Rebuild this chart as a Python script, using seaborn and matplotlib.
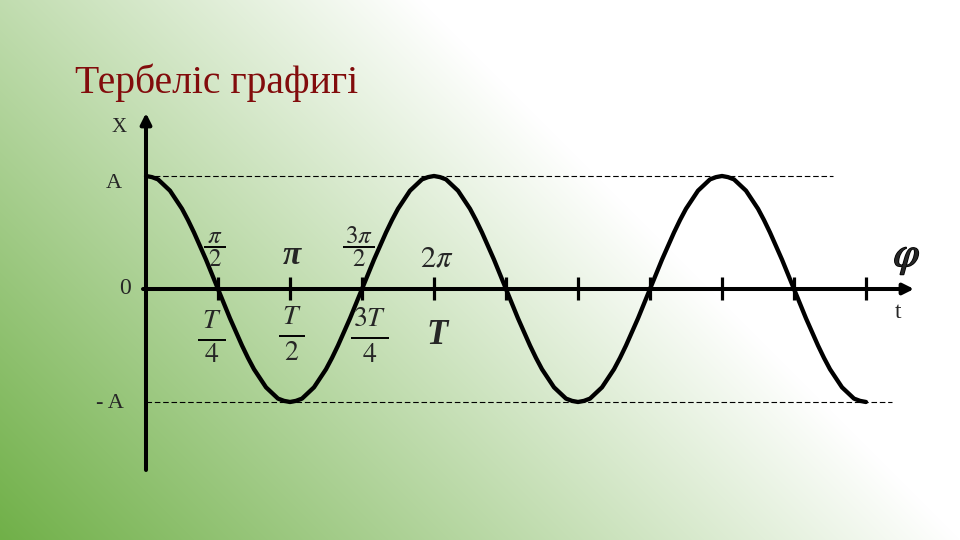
import numpy as np
import matplotlib
matplotlib.use("Agg")
import matplotlib.pyplot as plt
import matplotlib.patheffects as pe
import seaborn as sns

# phase axis in quarter periods (T/4 = 1), values read every 1/12 of a quarter
x_steps_per_quarter = 12
x_values = [
    1.00, 0.99, 0.97, 0.92, 0.87, 0.79, 0.71, 0.61, 0.50, 0.38, 0.26, 0.13,
    0.00, -0.13, -0.26, -0.38, -0.50, -0.61, -0.71, -0.79, -0.87, -0.92, -0.97, -0.99,
    -1.00, -0.99, -0.97, -0.92, -0.87, -0.79, -0.71, -0.61, -0.50, -0.38, -0.26, -0.13,
    0.00, 0.13, 0.26, 0.38, 0.50, 0.61, 0.71, 0.79, 0.87, 0.92, 0.97, 0.99,
    1.00, 0.99, 0.97, 0.92, 0.87, 0.79, 0.71, 0.61, 0.50, 0.38, 0.26, 0.13,
    0.00, -0.13, -0.26, -0.38, -0.50, -0.61, -0.71, -0.79, -0.87, -0.92, -0.97, -0.99,
    -1.00, -0.99, -0.97, -0.92, -0.87, -0.79, -0.71, -0.61, -0.50, -0.38, -0.26, -0.13,
    0.00, 0.13, 0.26, 0.38, 0.50, 0.61, 0.71, 0.79, 0.87, 0.92, 0.97, 0.99,
    1.00, 0.99, 0.97, 0.92, 0.87, 0.79, 0.71, 0.61, 0.50, 0.38, 0.26, 0.13,
    0.00, -0.13, -0.26, -0.38, -0.50, -0.61, -0.71, -0.79, -0.87, -0.92, -0.97, -0.99,
    -1.00,
]
t_values = np.arange(len(x_values)) / x_steps_per_quarter

amplitude = 1.0
tick_pos = [1, 2, 3, 4, 5, 6, 7, 8, 9, 10]
# (numerator, denominator); denominator None means a plain label
phase_labels = [(r"$\pi$", "$2$"), ("π", None), (r"$3\pi$", "$2$"), (r"$2\pi$", None)]
time_labels = [("$T$", "$4$"), ("$T$", "$2$"), ("$3T$", "$4$"), ("T", None)]
title = "Тербеліс графигі"

# pixel layout of the slide
X0, Y0, UX, UY = 146, 289, 72, 113


def px(xp, yp):
    return (xp - X0) / UX, (Y0 - yp) / UY


def py(yp):
    return (Y0 - yp) / UY


def background(ax):
    X, Y = np.meshgrid(np.arange(960), np.arange(540))
    u = X - Y
    m = np.clip((420 - u) / 960, 0, 1)
    green = np.array([112, 176, 72]) / 255
    img = 1 - m[..., None] * (1 - green)
    x0, y0 = px(0, 0)
    x1, y1 = px(960, 540)
    ax.imshow(img, extent=(x0, x1, y1, y0), origin="upper", aspect="auto", zorder=0)


def fraction(ax, xc, num, den, y_num, y_bar, y_den, fs, half_w):
    xd = X0 + xc * UX
    ax.text(xc, py(y_num), num, ha="center", va="center", fontsize=fs)
    ax.text(xc, py(y_den), den, ha="center", va="center", fontsize=fs)
    ax.plot([(xd - half_w - X0) / UX, (xd + half_w - X0) / UX], [py(y_bar)] * 2,
            color="black", lw=1.4, solid_capstyle="butt")


def main():
    sns.set_style("white")
    plt.rcParams["font.family"] = ["Liberation Serif", "DejaVu Serif"]
    plt.rcParams["mathtext.fontset"] = "stix"

    fig = plt.figure(figsize=(9.6, 5.4), dpi=100)
    ax = fig.add_axes([0, 0, 1, 1])
    background(ax)

    # axes with arrows
    ax.annotate("", xy=px(146, 113), xytext=px(146, 470),
                arrowprops=dict(arrowstyle="-|>", lw=2.9, color="black",
                                mutation_scale=16, shrinkA=0, shrinkB=0))
    ax.annotate("", xy=px(914, 289), xytext=px(143, 289),
                arrowprops=dict(arrowstyle="-|>", lw=2.9, color="black",
                                mutation_scale=16, shrinkA=0, shrinkB=0))
    ax.vlines(tick_pos, py(300), py(277), color="black", lw=2.3)

    # amplitude guides
    ax.plot([0, px(833, 0)[0]], [amplitude, amplitude], color="black",
            lw=0.8, ls=(0, (5, 2.5)))
    ax.plot([0, px(892, 0)[0]], [-amplitude, -amplitude], color="black",
            lw=0.8, ls=(0, (5, 2.5)))

    sns.lineplot(x=t_values, y=np.array(x_values) * amplitude, ax=ax,
                 color="black", lw=3.1, sort=False, estimator=None,
                 solid_capstyle="round", solid_joinstyle="round")

    # phase labels above the axis
    phase_dx = [-3, 2, -3, 3]
    for i, (num, den) in enumerate(phase_labels):
        xc = tick_pos[i] + phase_dx[i] / UX
        if den is not None:
            fraction(ax, xc, num, den, 237, 247, 260, 18, 11 if i == 0 else 16)
        elif num == "π":
            ax.text(xc, py(256), num, ha="center", va="center", fontsize=24,
                    style="italic", weight="bold")
        else:
            ax.text(xc, py(259), num, ha="center", va="center", fontsize=22)

    # time labels below the axis
    time_dx = [-6, 2, 8, 3]
    time_rows = [(322, 340, 356), (318, 336, 353), (320, 338, 355)]
    time_hw = [14, 13, 19]
    for i, (num, den) in enumerate(time_labels):
        xc = tick_pos[i] + time_dx[i] / UX
        if den is not None:
            yn, yb, yd = time_rows[i]
            fraction(ax, xc, num, den, yn, yb, yd, 20, time_hw[i])
        else:
            ax.text(xc, py(336), num, ha="center", va="center", fontsize=25,
                    style="italic", weight="bold")

    # axis names
    ax.text(*px(119, 128), "X", ha="center", va="center", fontsize=15)
    ax.text(*px(114, 183), "A", ha="center", va="center", fontsize=16)
    ax.text(*px(125, 288), "0", ha="center", va="center", fontsize=17)
    ax.text(*px(110, 404), "- A", ha="center", va="center", fontsize=16)
    ax.text(*px(898, 313), "t", ha="center", va="center", fontsize=17)
    ax.text(*px(907, 258), r"$\varphi$", ha="center", va="center", fontsize=30,
            path_effects=[pe.withStroke(linewidth=1.2, foreground="black")])

    fig.text(75 / 960, 1 - 93 / 540, title, ha="left", va="baseline",
             fontsize=28.5, color="#820c0c")

    x0, y0 = px(0, 0)
    x1, y1 = px(960, 540)
    ax.set_xlim(x0, x1)
    ax.set_ylim(y1, y0)
    ax.axis("off")
    fig.savefig("out.png", dpi=100)


if __name__ == "__main__":
    main()
